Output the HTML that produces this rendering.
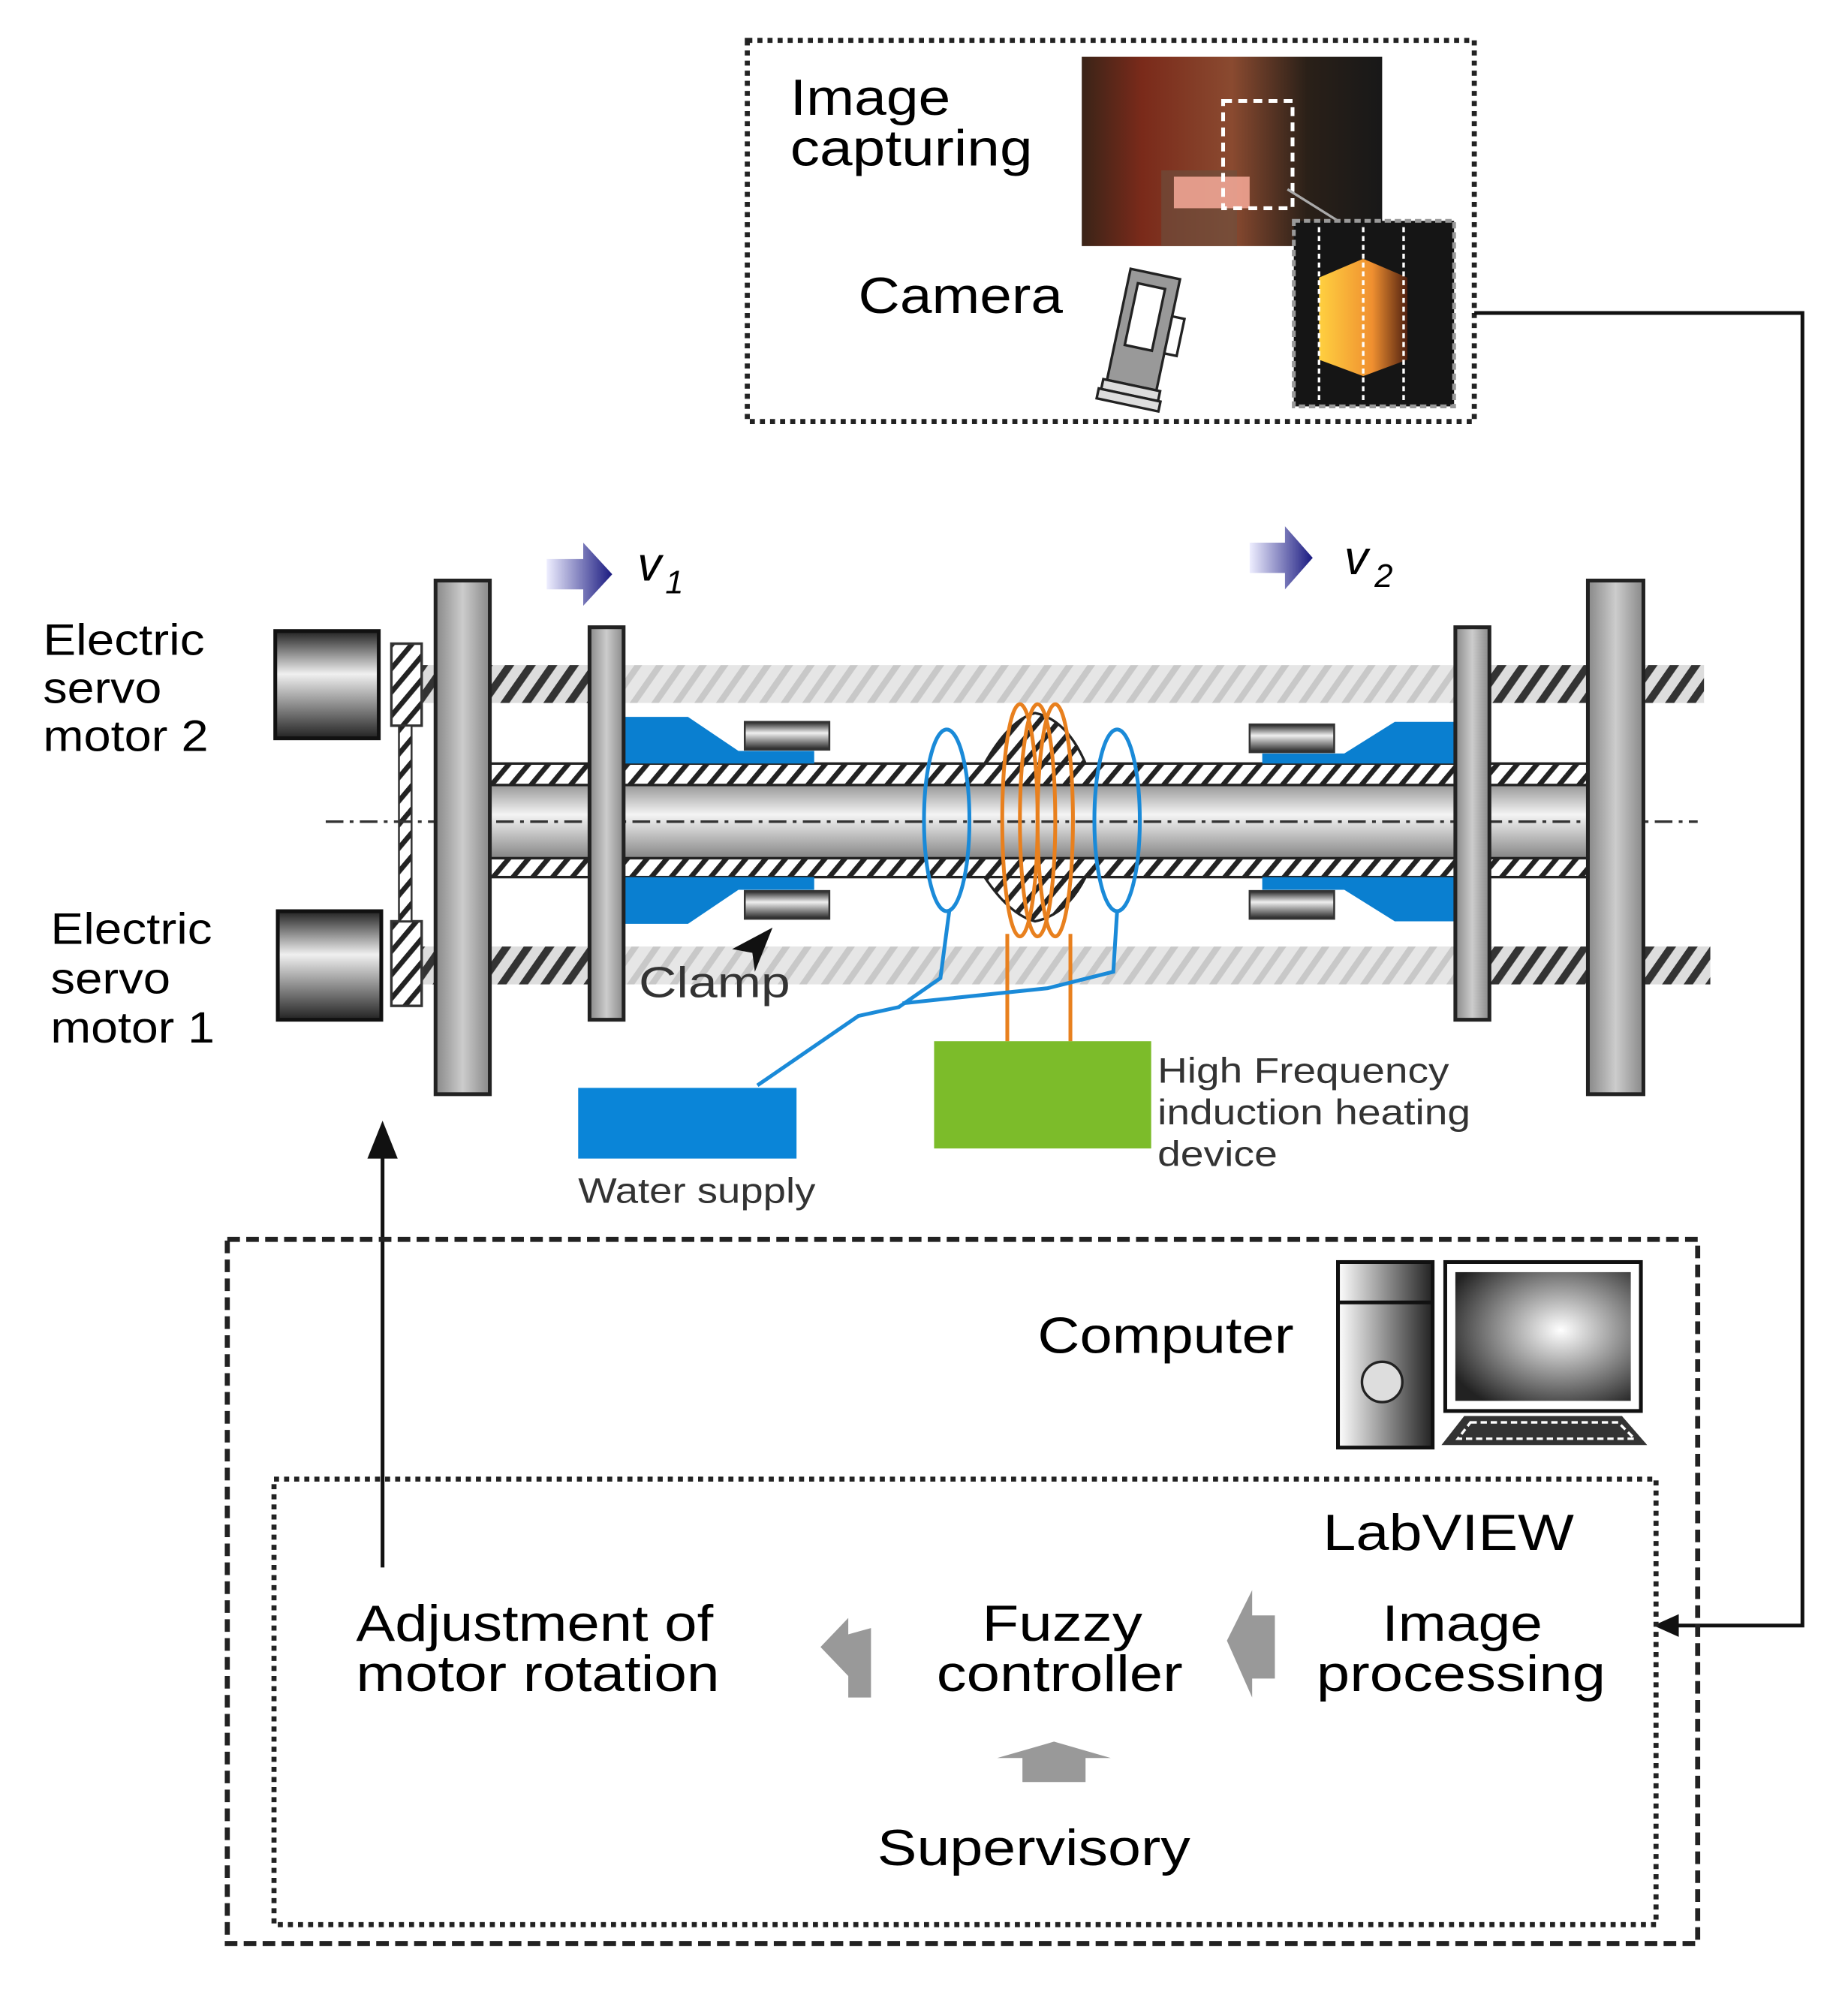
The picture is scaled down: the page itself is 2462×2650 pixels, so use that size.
<!DOCTYPE html>
<html><head><meta charset="utf-8"><style>html,body{margin:0;padding:0;background:#fff}svg{display:block}</style></head><body>
<svg width="2462" height="2650" viewBox="0 0 1464 1576" xmlns="http://www.w3.org/2000/svg" font-family="Liberation Sans, Arial, sans-serif">
<defs>
<linearGradient id="cyl" x1="0" y1="0" x2="0" y2="1"><stop offset="0" stop-color="#555"/><stop offset="0.45" stop-color="#f4f4f4"/><stop offset="1" stop-color="#555"/></linearGradient>
<linearGradient id="mot" x1="0" y1="0" x2="0" y2="1"><stop offset="0" stop-color="#222"/><stop offset="0.4" stop-color="#f0f0f0"/><stop offset="1" stop-color="#222"/></linearGradient>
<linearGradient id="plate" x1="0" y1="0" x2="1" y2="0"><stop offset="0" stop-color="#888"/><stop offset="0.5" stop-color="#ccc"/><stop offset="1" stop-color="#888"/></linearGradient>
<linearGradient id="arr" x1="0" y1="0" x2="1" y2="0"><stop offset="0" stop-color="#eef"/><stop offset="1" stop-color="#1a1a80"/></linearGradient>
<radialGradient id="scr" cx="0.6" cy="0.45" r="0.7"><stop offset="0" stop-color="#fff"/><stop offset="1" stop-color="#222"/></radialGradient>
<linearGradient id="tow" x1="0" y1="0" x2="1" y2="0"><stop offset="0" stop-color="#fff"/><stop offset="1" stop-color="#222"/></linearGradient>
<linearGradient id="photo" x1="0" y1="0" x2="1" y2="0"><stop offset="0" stop-color="#3a2418"/><stop offset="0.2" stop-color="#7a2a1a"/><stop offset="0.5" stop-color="#8a4a30"/><stop offset="0.75" stop-color="#2a2018"/><stop offset="1" stop-color="#181818"/></linearGradient>
<linearGradient id="hot" x1="0" y1="0" x2="1" y2="0"><stop offset="0" stop-color="#ffd040"/><stop offset="0.6" stop-color="#f09030"/><stop offset="1" stop-color="#502010"/></linearGradient>
<pattern id="hd" width="14" height="14" patternUnits="userSpaceOnUse" patternTransform="rotate(35)"><rect width="14" height="14" fill="#ddd"/><rect width="6" height="14" fill="#333"/></pattern>
<pattern id="hl" width="14" height="14" patternUnits="userSpaceOnUse" patternTransform="rotate(35)"><rect width="14" height="14" fill="#e6e6e6"/><rect width="5" height="14" fill="#c8c8c8"/></pattern>
<pattern id="hw" width="12" height="12" patternUnits="userSpaceOnUse" patternTransform="rotate(40)"><rect width="12" height="12" fill="#fff"/><rect width="4" height="12" fill="#222"/></pattern>
</defs>

<!-- top box -->
<rect x="592" y="32" width="576" height="302" fill="none" stroke="#222" stroke-width="4" stroke-dasharray="4 4"/>
<text x="626" y="91" font-size="40" textLength="127" lengthAdjust="spacingAndGlyphs">Image</text>
<text x="626" y="131" font-size="40" textLength="192" lengthAdjust="spacingAndGlyphs">capturing</text>
<text x="680" y="248" font-size="40" textLength="162" lengthAdjust="spacingAndGlyphs">Camera</text>
<rect x="857" y="45" width="238" height="150" fill="url(#photo)"/>
<rect x="920" y="135" width="60" height="60" fill="#6a5040" opacity="0.6"/>
<rect x="930" y="140" width="60" height="25" fill="#ffb0a0" opacity="0.8"/>
<rect x="969" y="80" width="55" height="85" fill="none" stroke="#fff" stroke-width="3" stroke-dasharray="7 5"/>
<line x1="1020" y1="150" x2="1060" y2="175" stroke="#aaa" stroke-width="2"/>
<rect x="1025" y="175" width="127" height="147" fill="#151515" stroke="#999" stroke-width="3" stroke-dasharray="5 3"/>
<polygon points="1045,220 1080,205 1115,220 1115,285 1080,298 1045,285" fill="url(#hot)"/>
<line x1="1045" y1="180" x2="1045" y2="318" stroke="#fff" stroke-width="2" stroke-dasharray="4 3"/>
<line x1="1080" y1="180" x2="1080" y2="318" stroke="#fff" stroke-width="2" stroke-dasharray="4 3"/>
<line x1="1112" y1="180" x2="1112" y2="318" stroke="#fff" stroke-width="2" stroke-dasharray="4 3"/>
<g transform="rotate(12 900 265)" stroke="#222" stroke-width="2">
<rect x="885" y="215" width="40" height="90" fill="#999"/>
<rect x="893" y="225" width="22" height="50" fill="#fff"/>
<rect x="925" y="245" width="10" height="30" fill="#fff"/>
<rect x="882" y="305" width="46" height="8" fill="#ddd"/>
<rect x="880" y="313" width="50" height="8" fill="#ddd"/>
</g>
<!-- right connector -->
<polyline points="1168,248 1428,248 1428,1288 1322,1288" fill="none" stroke="#111" stroke-width="3"/>
<polygon points="1310,1288 1330,1279 1330,1297" fill="#111"/>

<!-- arrows v -->
<polygon points="433,443 462,443 462,430 485,455 462,480 462,467 433,467" fill="url(#arr)"/>
<text x="505" y="460" font-size="38" font-style="italic">v</text><text x="527" y="470" font-size="26" font-style="italic">1</text>
<polygon points="990,430 1018,430 1018,417 1040,442 1018,467 1018,454 990,454" fill="url(#arr)"/>
<text x="1065" y="455" font-size="38" font-style="italic">v</text><text x="1089" y="465" font-size="26" font-style="italic">2</text>

<!-- labels motors -->
<text x="34" y="519" font-size="35" textLength="128" lengthAdjust="spacingAndGlyphs">Electric</text>
<text x="34" y="557" font-size="35" textLength="94" lengthAdjust="spacingAndGlyphs">servo</text>
<text x="34" y="595" font-size="35" textLength="131" lengthAdjust="spacingAndGlyphs">motor 2</text>
<text x="40" y="748" font-size="35" textLength="128" lengthAdjust="spacingAndGlyphs">Electric</text>
<text x="40" y="787" font-size="35" textLength="95" lengthAdjust="spacingAndGlyphs">servo</text>
<text x="40" y="826" font-size="35" textLength="130" lengthAdjust="spacingAndGlyphs">motor 1</text>

<!-- rods -->
<rect x="335" y="527" width="1015" height="30" fill="url(#hl)"/>
<rect x="335" y="527" width="140" height="30" fill="url(#hd)"/>
<rect x="1180" y="527" width="170" height="30" fill="url(#hd)"/>
<rect x="335" y="750" width="1020" height="30" fill="url(#hl)"/>
<rect x="335" y="750" width="140" height="30" fill="url(#hd)"/>
<rect x="1180" y="750" width="175" height="30" fill="url(#hd)"/>

<!-- motors -->
<rect x="218" y="500" width="82" height="85" fill="url(#mot)" stroke="#111" stroke-width="3"/>
<rect x="220" y="722" width="82" height="86" fill="url(#mot)" stroke="#111" stroke-width="3"/>
<rect x="310" y="510" width="24" height="65" fill="url(#hw)" stroke="#333" stroke-width="2"/>
<rect x="310" y="730" width="24" height="67" fill="url(#hw)" stroke="#333" stroke-width="2"/>
<rect x="316" y="575" width="10" height="155" fill="url(#hw)" stroke="#333" stroke-width="1.5"/>

<!-- tube -->
<rect x="388" y="605" width="870" height="90" fill="url(#cyl)"/>
<rect x="388" y="605" width="870" height="17" fill="url(#hw)" stroke="#222" stroke-width="2"/>
<rect x="388" y="680" width="870" height="15" fill="url(#hw)" stroke="#222" stroke-width="2"/>
<path d="M780,605 Q800,570 820,565 Q845,570 860,605 Z" fill="url(#hw)" stroke="#222" stroke-width="2"/>
<path d="M780,695 Q800,725 820,730 Q845,725 860,695 Z" fill="url(#hw)" stroke="#222" stroke-width="2"/>
<line x1="258" y1="651" x2="1345" y2="651" stroke="#333" stroke-width="2" stroke-dasharray="14 5 3 5"/>

<!-- clamps -->
<g fill="#0a7fd0">
<polygon points="494,568 545,568 585,595 645,595 645,605 494,605"/>
<polygon points="494,695 645,695 645,705 585,705 545,732 494,732"/>
<polygon points="1153,572 1105,572 1065,597 1000,597 1000,605 1153,605"/>
<polygon points="1153,695 1000,695 1000,705 1065,705 1105,730 1153,730"/>
</g>
<g fill="url(#mot)" stroke="#333" stroke-width="1.5">
<rect x="590" y="572" width="67" height="22"/><rect x="590" y="706" width="67" height="22"/>
<rect x="990" y="574" width="67" height="22"/><rect x="990" y="706" width="67" height="22"/>
</g>

<!-- plates -->
<rect x="345" y="460" width="43" height="407" fill="url(#plate)" stroke="#222" stroke-width="3"/>
<rect x="1258" y="460" width="44" height="407" fill="url(#plate)" stroke="#222" stroke-width="3"/>
<rect x="467" y="497" width="27" height="311" fill="url(#plate)" stroke="#222" stroke-width="3"/>
<rect x="1153" y="497" width="27" height="311" fill="url(#plate)" stroke="#222" stroke-width="3"/>

<!-- coils -->
<g fill="none" stroke="#e8801e" stroke-width="3">
<ellipse cx="808" cy="650" rx="14" ry="92"/><ellipse cx="822" cy="650" rx="14" ry="92"/><ellipse cx="836" cy="650" rx="14" ry="92"/>
<line x1="798" y1="740" x2="798" y2="825"/><line x1="848" y1="740" x2="848" y2="825"/>
</g>
<g fill="none" stroke="#1a8ad8" stroke-width="3">
<ellipse cx="750" cy="650" rx="18" ry="72"/><ellipse cx="885" cy="650" rx="18" ry="72"/>
<path d="M752,722 L745,775 L712,798 L680,805 L600,860"/>
<path d="M885,722 L882,770 L830,783 L715,795"/>
</g>
<rect x="458" y="862" width="173" height="56" fill="#0a85d8"/>
<rect x="740" y="825" width="172" height="85" fill="#7cbc2a"/>
<text x="458" y="953" font-size="28" fill="#333" textLength="188" lengthAdjust="spacingAndGlyphs">Water supply</text>
<text x="917" y="858" font-size="28" fill="#333" textLength="231" lengthAdjust="spacingAndGlyphs">High Frequency</text>
<text x="917" y="891" font-size="28" fill="#333" textLength="248" lengthAdjust="spacingAndGlyphs">induction heating</text>
<text x="917" y="924" font-size="28" fill="#333" textLength="95" lengthAdjust="spacingAndGlyphs">device</text>
<text x="506" y="790" font-size="34" fill="#333" textLength="120" lengthAdjust="spacingAndGlyphs">Clamp</text>
<polygon points="580,752 612,735 598,770 596,755" fill="#111"/>

<!-- up arrow -->
<line x1="303" y1="1242" x2="303" y2="910" stroke="#111" stroke-width="3"/>
<polygon points="303,888 291,918 315,918" fill="#111"/>

<!-- computer box -->
<rect x="180" y="982" width="1165" height="558" fill="none" stroke="#222" stroke-width="4" stroke-dasharray="10 5"/>
<rect x="217" y="1172" width="1095" height="353" fill="none" stroke="#222" stroke-width="4" stroke-dasharray="4 4"/>
<text x="822" y="1072" font-size="40" textLength="203" lengthAdjust="spacingAndGlyphs">Computer</text>
<rect x="1060" y="1000" width="75" height="147" fill="url(#tow)" stroke="#111" stroke-width="3"/>
<line x1="1060" y1="1032" x2="1135" y2="1032" stroke="#111" stroke-width="3"/>
<circle cx="1095" cy="1095" r="16" fill="#ddd" stroke="#222" stroke-width="2"/>
<rect x="1145" y="1000" width="155" height="118" fill="#fff" stroke="#111" stroke-width="3"/>
<rect x="1153" y="1008" width="139" height="102" fill="url(#scr)"/>
<polygon points="1160,1122 1285,1122 1305,1145 1142,1145" fill="#333"/>
<polygon points="1165,1127 1282,1127 1295,1140 1155,1140" fill="none" stroke="#fff" stroke-width="2" stroke-dasharray="5 3"/>
<text x="1048" y="1228" font-size="40" textLength="199" lengthAdjust="spacingAndGlyphs">LabVIEW</text>
<text x="282" y="1300" font-size="40" textLength="283" lengthAdjust="spacingAndGlyphs">Adjustment of</text>
<text x="282" y="1340" font-size="40" textLength="288" lengthAdjust="spacingAndGlyphs">motor rotation</text>
<text x="778" y="1300" font-size="40" textLength="127" lengthAdjust="spacingAndGlyphs">Fuzzy</text>
<text x="742" y="1340" font-size="40" textLength="195" lengthAdjust="spacingAndGlyphs">controller</text>
<text x="1095" y="1300" font-size="40" textLength="127" lengthAdjust="spacingAndGlyphs">Image</text>
<text x="1043" y="1340" font-size="40" textLength="229" lengthAdjust="spacingAndGlyphs">processing</text>
<text x="695" y="1478" font-size="40" textLength="248" lengthAdjust="spacingAndGlyphs">Supervisory</text>
<g fill="#999">
<polygon points="650,1305 672,1282 672,1295 690,1290 690,1345 672,1345 672,1328"/>
<polygon points="972,1300 992,1260 992,1280 1010,1280 1010,1330 992,1330 992,1345"/>
<polygon points="790,1393 835,1380 880,1393 860,1393 860,1412 810,1412 810,1393"/>
</g>
</svg>
</body></html>
